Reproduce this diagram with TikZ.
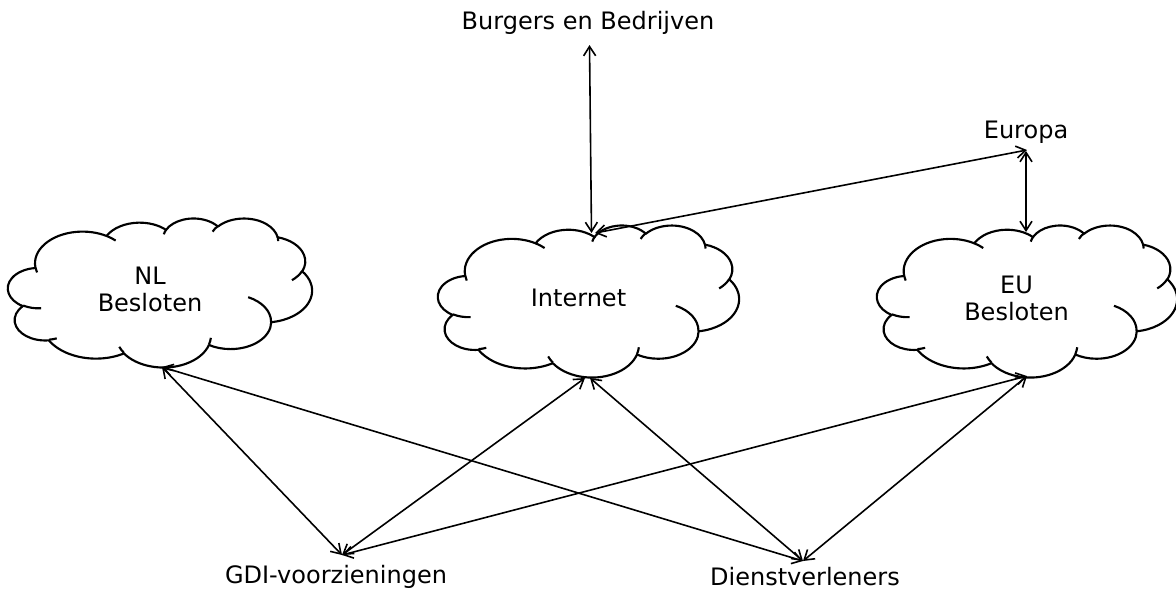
\documentclass[tikz,border=0pt]{standalone}
\usepackage{fontspec}
\setmainfont{DejaVu Sans}
\usetikzlibrary{arrows.meta}

% precompute an elliptic arc given with "visual" angles (Office style)
\newcommand\prearc[5]{%
  \pgfmathsetmacro\tmpA{(#4)+mod(atan2((#2)*sin(#4),(#3)*cos(#4))-(#4)+900,360)-180}%
  \pgfmathsetmacro\tmpB{(#4)+(#5)+mod(atan2((#2)*sin((#4)+(#5)),(#3)*cos((#4)+(#5)))-((#4)+(#5))+900,360)-180}%
  \expandafter\xdef\csname #1\endcsname{arc[x radius=#2, y radius=#3, start angle=\tmpA, end angle=\tmpB]}%
}
\prearc{cldoa}{67.53}{91.90}{-190.4875}{123.7805}
\prearc{cldob}{53.33}{72.67}{-144.1024}{89.9452}
\prearc{cldoc}{43.65}{59.45}{-145.8079}{99.7230}
\prearc{cldod}{48.57}{65.95}{-130.9861}{117.2417}
\prearc{cldoe}{53.33}{72.73}{-78.7089}{109.0269}
\prearc{cldof}{67.75}{92.20}{-46.2673}{130.2690}
\prearc{cldog}{57.85}{78.67}{0.6250}{114.0333}
\prearc{cldoh}{67.52}{92.15}{22.4516}{115.1726}
\prearc{cldoi}{77.20}{105.43}{66.2426}{75.7110}
\prearc{cldoj}{43.60}{59.18}{-274.9421}{146.7356}
\prearc{cldok}{43.45}{59.45}{-246.8285}{152.5189}
\prearc{cldia}{43.45}{59.45}{86.7420}{26.4295}
\prearc{cldib}{43.60}{59.18}{73.6105}{11.4475}
\prearc{cldic}{67.52}{92.15}{137.6242}{14.0811}
\prearc{cldid}{67.52}{92.15}{6.4533}{15.9984}
\prearc{cldie}{57.85}{78.67}{-70.2924}{70.9174}
\prearc{cldif}{53.33}{72.73}{30.3180}{27.7515}
\prearc{cldig}{48.57}{65.95}{-13.7443}{14.8589}
\prearc{cldih}{48.57}{65.95}{-149.1815}{18.1954}
\prearc{cldii}{43.65}{59.45}{-163.4943}{17.6864}
\prearc{cldij}{67.53}{91.90}{-66.7070}{12.3194}
\prearc{cldik}{67.53}{91.90}{157.6544}{11.8582}

\newcommand\drawcloud[4]{% left top width height (px)
  \begin{scope}[shift={(#1,#2)}, x={({0.75pt*#3/432},0pt)}, y={(0pt,{-0.75pt*#4/432})}]
    \draw[cloudline] (39,143.7) \cldoa \cldob \cldoc \cldod \cldoe \cldof \cldog \cldoh \cldoi \cldoj \cldok -- cycle;
    \draw[cloudline] (46.93,261.77) \cldia (69.28,348.99) \cldib (164.78,390.90) \cldic
      (288.27,347.51) \cldid (341.29,229.54) \cldie (417.98,153.54) \cldif
      (383.24,54.26) \cldig (290.78,39.52) \cldih (221.41,47.20) \cldii
      (140.00,51.92) \cldij (41.27,157.89) \cldik;
  \end{scope}
}

\begin{document}
\begin{tikzpicture}[x=0.75pt, y=-0.75pt,
  cloudline/.style={line width=1.6pt, line join=round},
  conn/.style={line width=1.2pt, arrows={Straight Barb[length=7pt,width=9pt]-Straight Barb[length=7pt,width=9pt]}},
  lbl/.style={inner sep=0pt, anchor=base, align=center, font=\fontsize{18}{20.25}\selectfont}]
\useasboundingbox (0,0) rectangle (1176,594);

% clouds
\drawcloud{8}{218}{304}{149}
\drawcloud{438}{225}{301}{152}
\drawcloud{877}{225}{300}{152}

% labels (base anchor = baseline of last line)
\node[lbl] (burg) at (588,29.5) {Burgers en Bedrijven};
\node[lbl] (europa) at (1026,138) {Europa};
\node[lbl] (nl) at (150,311) {NL\\Besloten};
\node[lbl] (inet) at (578.5,306.7) {Internet};
\node[lbl] (eu) at (1016.5,320.7) {EU\\Besloten};
\node[lbl] (gdi) at (336,583) {GDI-voorzieningen};
\node[lbl] (dien) at (805,585) {Dienstverleners};

% connector end points
\coordinate (burgA) at (589.5,45);
\coordinate (inetTop) at (591.5,233);
\coordinate (inetTopR) at (595,233);
\coordinate (eurA) at (1027,150);
\coordinate (eurB) at (1026,151);
\coordinate (euTop) at (1026,232);
\coordinate (nlBot) at (162,367);
\coordinate (inetBotL) at (585,378);
\coordinate (inetBotR) at (590,378);
\coordinate (euBot) at (1027,376);
\coordinate (gdiA) at (342,555);
\coordinate (dienA) at (803,561);

% connectors
\draw[conn] (burgA) -- (inetTop);
\draw[conn] (inetTopR) -- (eurA);
\draw[conn] (eurB) -- (euTop);
\draw[conn] (nlBot) -- (gdiA);
\draw[conn] (nlBot) -- (dienA);
\draw[conn] (inetBotL) -- (gdiA);
\draw[conn] (inetBotR) -- (dienA);
\draw[conn] (euBot) -- (gdiA);
\draw[conn] (euBot) -- (dienA);
\end{tikzpicture}
\end{document}
